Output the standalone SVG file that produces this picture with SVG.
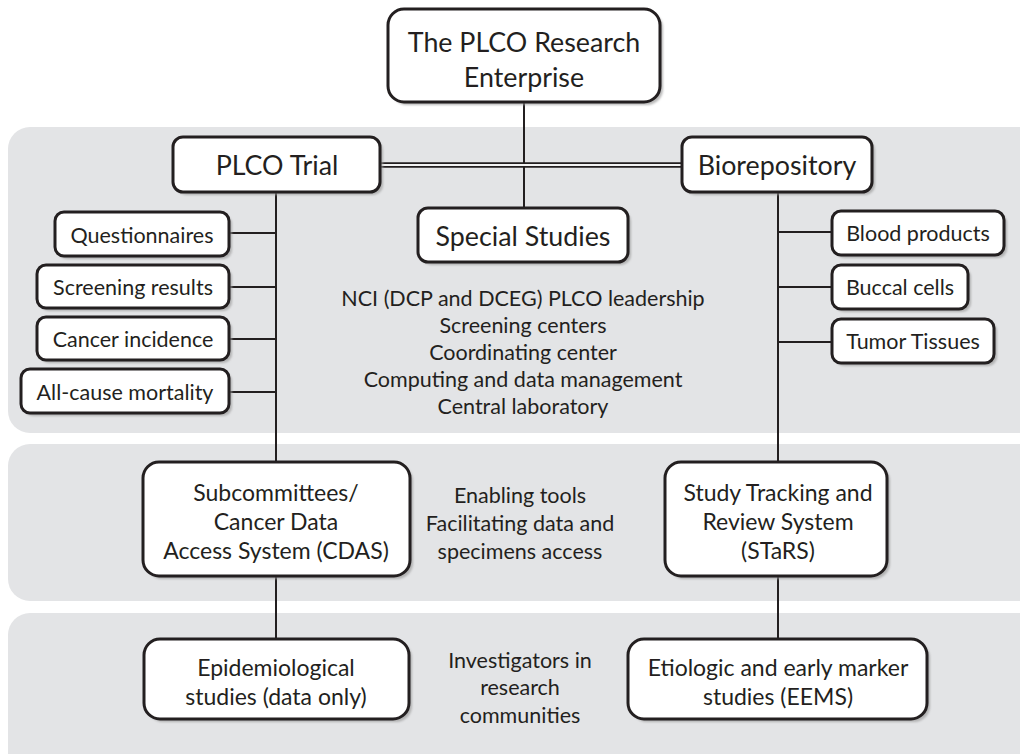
<svg xmlns="http://www.w3.org/2000/svg" width="1020" height="754" viewBox="0 0 1020 754">
  <style>
    .band { fill: #e3e4e6; }
    .box { fill: #ffffff; stroke: #231f20; stroke-width: 3; }
    .shadow { fill: #9c9c9c; opacity: 0.7; }
    .link { stroke: #231f20; stroke-width: 2; fill: none; }
    text { font-family: Lato, "Open Sans", "Liberation Sans", sans-serif; fill: #231f20; text-anchor: middle; dominant-baseline: central; }
    .t26 { font-size: 26.8px; }
    .t23 { font-size: 23px; }
    .t21 { font-size: 21.5px; }
  </style>
  <defs>
    <filter id="soft" x="-10%" y="-10%" width="120%" height="120%">
      <feGaussianBlur stdDeviation="1"/>
    </filter>
  </defs>

  <rect width="1020" height="754" fill="#ffffff"/>

  <!-- background tiers -->
  <g id="tiers">
    <rect class="band" x="8" y="127" width="1040" height="306" rx="22"/>
    <rect class="band" x="8" y="444" width="1040" height="157" rx="22"/>
    <rect class="band" x="8" y="613" width="1040" height="170" rx="22"/>
  </g>

  <!-- connectors -->
  <g id="connectors">
    <line class="link" x1="524" y1="102" x2="524" y2="208"/>
    <!-- double rule between trial and biorepository -->
    <line x1="381" y1="165" x2="682" y2="165" stroke="#231f20" stroke-width="5.5"/>
    <line x1="381" y1="165" x2="682" y2="165" stroke="#f4f4f4" stroke-width="2"/>
    <line class="link" x1="276" y1="192" x2="276" y2="462"/>
    <line class="link" x1="229" y1="233" x2="276" y2="233"/>
    <line class="link" x1="229" y1="287" x2="276" y2="287"/>
    <line class="link" x1="229" y1="339" x2="276" y2="339"/>
    <line class="link" x1="229" y1="392" x2="276" y2="392"/>
    <line class="link" x1="778" y1="192" x2="778" y2="462"/>
    <line class="link" x1="778" y1="232" x2="832" y2="232"/>
    <line class="link" x1="778" y1="287" x2="832" y2="287"/>
    <line class="link" x1="778" y1="342" x2="832" y2="342"/>
    <line class="link" x1="276" y1="576" x2="276" y2="639"/>
    <line class="link" x1="778" y1="576" x2="778" y2="639"/>
  </g>

  <g id="enterprise">
    <rect class="shadow" filter="url(#soft)" x="391" y="12" width="272" height="93" rx="16"/>
    <rect class="box" x="388" y="9" width="272" height="93" rx="16"/>
    <text class="t26" x="524" y="42">The PLCO Research</text>
    <text class="t26" x="524" y="77">Enterprise</text>
  </g>

  <g id="plco-trial">
    <rect class="shadow" filter="url(#soft)" x="176" y="140" width="207" height="55" rx="10"/>
    <rect class="box" x="173" y="137" width="207" height="55" rx="10"/>
    <text class="t26" x="277" y="165">PLCO Trial</text>
  </g>

  <g id="biorepository">
    <rect class="shadow" filter="url(#soft)" x="685" y="140" width="190" height="55" rx="10"/>
    <rect class="box" x="682" y="137" width="190" height="55" rx="10"/>
    <text class="t26" x="777" y="165">Biorepository</text>
  </g>

  <g id="special-studies">
    <rect class="shadow" filter="url(#soft)" x="421" y="211" width="210" height="54" rx="10"/>
    <rect class="box" x="418" y="208" width="210" height="54" rx="10"/>
    <text class="t26" x="523" y="236">Special Studies</text>
  </g>

  <g id="questionnaires">
    <rect class="shadow" filter="url(#soft)" x="58" y="215" width="174" height="44" rx="9"/>
    <rect class="box" x="55" y="212" width="174" height="44" rx="9"/>
    <text class="t21" x="142" y="235">Questionnaires</text>
  </g>
  <g id="screening-results">
    <rect class="shadow" filter="url(#soft)" x="40" y="268" width="192" height="43" rx="9"/>
    <rect class="box" x="37" y="265" width="192" height="43" rx="9"/>
    <text class="t21" x="133" y="287">Screening results</text>
  </g>
  <g id="cancer-incidence">
    <rect class="shadow" filter="url(#soft)" x="40" y="320" width="192" height="43" rx="9"/>
    <rect class="box" x="37" y="317" width="192" height="43" rx="9"/>
    <text class="t21" x="133" y="339">Cancer incidence</text>
  </g>
  <g id="all-cause-mortality">
    <rect class="shadow" filter="url(#soft)" x="24" y="372" width="208" height="44" rx="9"/>
    <rect class="box" x="21" y="369" width="208" height="44" rx="9"/>
    <text class="t21" x="125" y="392">All-cause mortality</text>
  </g>

  <g id="blood-products">
    <rect class="shadow" filter="url(#soft)" x="835" y="214" width="172" height="44" rx="9"/>
    <rect class="box" x="832" y="211" width="172" height="44" rx="9"/>
    <text class="t21" x="918" y="233">Blood products</text>
  </g>
  <g id="buccal-cells">
    <rect class="shadow" filter="url(#soft)" x="835" y="268" width="136" height="44" rx="9"/>
    <rect class="box" x="832" y="265" width="136" height="44" rx="9"/>
    <text class="t21" x="900" y="287">Buccal cells</text>
  </g>
  <g id="tumor-tissues">
    <rect class="shadow" filter="url(#soft)" x="835" y="322" width="162" height="44" rx="9"/>
    <rect class="box" x="832" y="319" width="162" height="44" rx="9"/>
    <text class="t21" x="913" y="341">Tumor Tissues</text>
  </g>

  <g id="leadership-notes">
    <text class="t21" x="523" y="298">NCI (DCP and DCEG) PLCO leadership</text>
    <text class="t21" x="523" y="325">Screening centers</text>
    <text class="t21" x="523" y="352">Coordinating center</text>
    <text class="t21" x="523" y="379">Computing and data management</text>
    <text class="t21" x="523" y="406">Central laboratory</text>
  </g>

  <g id="cdas">
    <rect class="shadow" filter="url(#soft)" x="146" y="465" width="267" height="114" rx="16"/>
    <rect class="box" x="143" y="462" width="267" height="114" rx="16"/>
    <text class="t23" x="276" y="492">Subcommittees/</text>
    <text class="t23" x="276" y="521">Cancer Data</text>
    <text class="t23" x="276" y="550">Access System (CDAS)</text>
  </g>

  <g id="enabling-notes">
    <text class="t21" x="520" y="495">Enabling tools</text>
    <text class="t21" x="520" y="523">Facilitating data and</text>
    <text class="t21" x="520" y="551">specimens access</text>
  </g>

  <g id="stars">
    <rect class="shadow" filter="url(#soft)" x="668" y="465" width="222" height="114" rx="16"/>
    <rect class="box" x="665" y="462" width="222" height="114" rx="16"/>
    <text class="t23" x="778" y="492">Study Tracking and</text>
    <text class="t23" x="778" y="521">Review System</text>
    <text class="t23" x="778" y="550">(STaRS)</text>
  </g>

  <g id="epidemiological">
    <rect class="shadow" filter="url(#soft)" x="147" y="642" width="265" height="80" rx="16"/>
    <rect class="box" x="144" y="639" width="265" height="80" rx="16"/>
    <text class="t23" x="276" y="667">Epidemiological</text>
    <text class="t23" x="276" y="696">studies (data only)</text>
  </g>

  <g id="investigator-notes">
    <text class="t21" x="520" y="660">Investigators in</text>
    <text class="t21" x="520" y="687">research</text>
    <text class="t21" x="520" y="715">communities</text>
  </g>

  <g id="eems">
    <rect class="shadow" filter="url(#soft)" x="631" y="642" width="299" height="80" rx="16"/>
    <rect class="box" x="628" y="639" width="299" height="80" rx="16"/>
    <text class="t23" x="778" y="667">Etiologic and early marker</text>
    <text class="t23" x="778" y="696">studies (EEMS)</text>
  </g>
</svg>
